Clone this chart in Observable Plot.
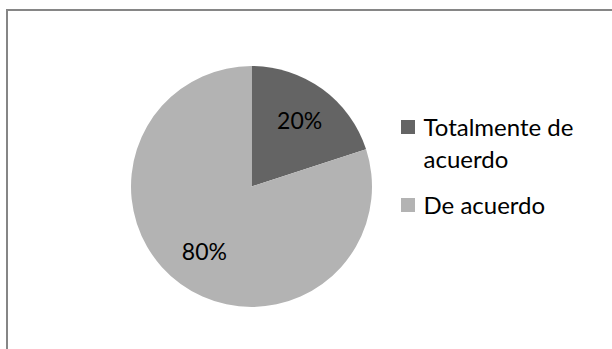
<!DOCTYPE html>
<html><head><meta charset="utf-8">
<script src="https://cdn.jsdelivr.net/npm/d3@7"></script>
<script src="https://cdn.jsdelivr.net/npm/@observablehq/plot@0.6"></script>
<style>
body{margin:0;background:#fff;overflow:hidden}
#wrap{position:relative;width:612px;height:349px;overflow:hidden;background:#fff}
#chart{position:absolute;left:0;top:0}
#border{position:absolute;left:6px;top:9px;width:800px;height:600px;border-left:2px solid #868686;border-top:2px solid #868686;pointer-events:none}
</style></head><body>
<div id="wrap"><div id="chart"></div><div id="border"></div></div>
<script>
// ---- data ----
const categories = ["Totalmente de acuerdo", "De acuerdo"];
const values = [20, 80];
const percentLabels = ["20%", "80%"];
const legendLines = [["Totalmente de", "acuerdo"], ["De acuerdo"]];
const colors = ["#646464", "#b3b3b3"];

// ---- layout ----
const W = 612, H = 349;
const cx = 251.5, cy = 186.5, R = 120.5, labelR = 81;
const FONT = "Lato, 'Noto Sans', sans-serif";

const data = categories.map((c, i) => ({category: c, value: values[i], label: percentLabels[i]}));
const arcs = d3.pie().sort(null).value(d => d.value)(data);
const arcGen = d3.arc().innerRadius(0).outerRadius(R);
const labelArc = d3.arc().innerRadius(labelR).outerRadius(labelR);

const labelData = arcs.map(a => {
  const [x, y] = labelArc.centroid(a);
  return {x: cx + x, y: cy + y, label: a.data.label};
});

// legend rows
const legendSwatches = categories.map((c, i) => ({category: c, y: 127 + i * 78}));
const legendText = [];
legendLines.forEach((lines, i) => lines.forEach((t, j) => legendText.push({text: t, y: 135.5 + i * 78 + j * 31.5})));

function pieMark(index, scales, channels, dims, context) {
  const g = d3.create("svg:g").attr("transform", `translate(${cx},${cy})`);
  g.selectAll("path").data(arcs).join("path")
    .attr("d", arcGen)
    .attr("fill", d => scales.color(d.data.category));
  return g.node();
}

const chart = Plot.plot({
  width: W, height: H, margin: 0,
  style: {background: "transparent"},
  x: {type: "identity", axis: null},
  y: {type: "identity", axis: null},
  color: {domain: categories, range: colors},
  marks: [
    pieMark,
    Plot.text(labelData, {x: "x", y: "y", text: "label", fontSize: 23, fontFamily: FONT, fill: "#000", lineAnchor: "middle"}),
    Plot.rect(legendSwatches, {x1: 401, x2: 415, y1: d => d.y - 7, y2: d => d.y + 7, fill: "category"}),
    Plot.text(legendText, {x: 423, y: "y", text: "text", textAnchor: "start", lineAnchor: "bottom", fontSize: 24, fontFamily: FONT, fill: "#000"})
  ]
});
document.getElementById("chart").appendChild(chart);
</script>
</body></html>
